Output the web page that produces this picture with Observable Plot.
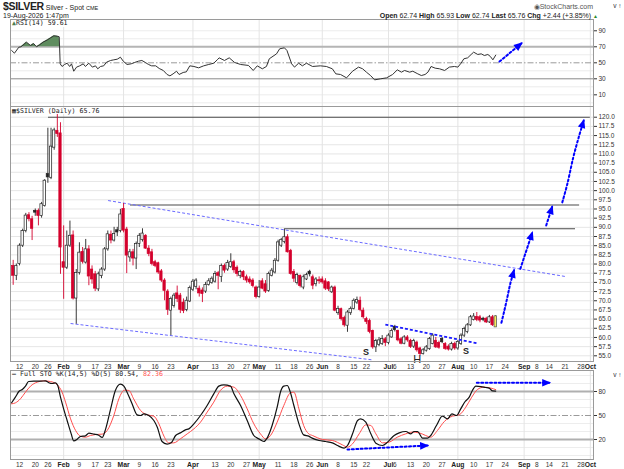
<!DOCTYPE html>
<html><head><meta charset="utf-8">
<script src="https://cdn.jsdelivr.net/npm/d3@7"></script>
<script src="https://cdn.jsdelivr.net/npm/@observablehq/plot@0.6"></script>
<style>
body{margin:0;background:#fff;}
#wrap{position:relative;width:624px;height:469px;overflow:hidden;font-family:"Liberation Sans",Arial,sans-serif;color:#222;background:#fff;font-size:7px;}
#wrap svg{position:absolute;left:0;}
.t{position:absolute;white-space:nowrap;line-height:1;font-size:7px;}
.mono{font-family:"DejaVu Sans Mono",monospace;}
</style></head><body><div id="wrap">
<div class="t" style="left:3px;top:1px;height:10px;line-height:10px;"><b style="font-size:10.5px;letter-spacing:-0.3px">$SILVER</b> <span style="font-size:7px">Silver - Spot</span> <span style="font-size:5.5px">CME</span></div>
<div class="t" style="left:3px;top:11.5px;font-size:7px;line-height:7px">19-Aug-2026 1:47pm</div>
<div class="t" style="right:31px;top:3px;font-size:7px;color:#555">&#9673;StockCharts.com</div>
<div class="t" style="right:26px;top:12px;font-size:7px"><b>Open</b> 62.74 <b>High</b> 65.93 <b>Low</b> 62.74 <b>Last</b> 65.76 <b>Chg</b> +2.44 (+3.85%) <span style="color:#2a8a2a;font-size:5px">&#9650;</span></div>
</div>
<script>
// ---------- DATA ----------
const firstIdx = -2; // trading-day index of first candle (Jan 12, 2026 = 0)
const open  = [79.5,76.8,80,85,89,93.3,92.2,94.5,94.5,93.1,95.8,104.5,103.5,111.7,116.3,115.6,80.5,79,85,87.8,70.6,77.6,83.3,80.4,84,78.5,77.2,73.1,76.7,78.5,84,88,86.4,89.2,89,95,89.4,81.8,83.2,81.5,85.5,86.5,87.7,84.2,83.2,80.5,80.2,78,75.5,72.5,67.3,68.6,72,71.4,69.5,67.5,69.8,73,73.8,73.3,72.8,72.5,74.3,74.8,75.2,77.5,76.5,79.5,78.5,79.2,80.5,79,76.8,77.8,76.4,75.8,75.5,73.6,71,75.3,74.5,72.7,76.8,77.7,80.9,85,86,87.3,83.6,77.8,74.8,76.8,73.6,75.8,77.9,76.4,74.5,75.6,75.8,75.3,75,72.3,73.6,66.6,67.7,65.3,63.2,66.6,67.8,69.5,70,67.3,65,64.5,61.8,57.3,58,58.2,59.5,58.5,60,62.9,61.8,59.5,58.3,60,59.1,57.5,58.6,57,55.5,56.4,56.8,58.2,59.1,58.5,59.6,58.2,57.5,56.7,58.2,57,58.2,60.5,61.5,63.3,64.8,65.6,65.5,65.1,65.1,64.1,65.5,62.74];
const high  = [81,80,85.5,89.5,93.8,94,93,95,95,96.8,103,117,117,117,121,118.5,90.4,89,91.7,89,78.5,85.8,84.5,86.7,85,79.5,78,77.8,79,84.5,89,89,90,90,94.9,96.5,90,84,84,86,88.3,89.6,88,85,84,81,80.5,78.5,76,73,71,72,74,72,70.5,71,74,75.8,76,74,73.5,75,76,76.5,78,78,80,80,81,82.8,81,79.5,78.3,78.2,77,76.5,76,74,75.5,76,75.5,77.8,78.8,81.5,86.5,87,89.6,88,84,78.5,77.5,77,77,77.5,78.3,77,76.3,76.5,76.5,76,75.2,74,74,68.5,68,65.8,67.3,68.3,70.5,71,71,68,65.5,65,62,59.5,60,60.5,60,61,62.3,63.3,62,60,60.5,60.5,59.5,59.5,59,57.3,57,57.8,60,61,60,59,60,58.6,58,58.7,58.7,59.2,61,62.8,63.8,66,66.5,66.8,66,65.5,65.5,66,66,65.93];
const low   = [74.2,75.5,79.5,84.5,88.5,91.5,86.4,93,90.4,92.5,95.5,102,103,111,114.5,77.2,70.4,78.5,84.5,70.2,63.6,77,80,80,74.1,74.5,72.5,72.5,76,78,83.5,85.5,86,87.5,88.5,88.5,77.4,80.5,79.5,78.5,84.5,86,84,82,79.5,79,77.2,75,70,66,60.5,68,69.5,66.5,66.5,67,69.5,72.5,73,71,69.5,72,74,74.5,74.8,73,75,77.5,78,78.8,77.5,76.5,76,75.5,74.8,74.5,73.5,70.5,70.7,73,72,72.3,76.5,77.3,80.5,84.5,85.5,83,77,75,74.3,73.5,73,75.5,76.5,73,73.8,74.5,74.5,72.8,72.5,72,67,66,64.5,62.8,61.4,66,67.5,69,67,65,63.5,61,56.8,55.9,57.5,57.8,57.5,58,59.8,61.5,58.8,58,58,58.7,57,57,56,55,55.2,56,56.5,58,57,56.8,58.3,56.5,56.3,56.3,56.5,56.5,57.8,60,61,63,64.5,64.3,64,64.3,63.8,63.8,63,62.74];
const close = [76.8,79.5,85,89,93.2,92.2,89.6,94,93.1,96.3,102.7,103.6,112,116.4,115.4,84.5,79,85,87.7,70.6,77.6,83.1,80.6,84,76.6,75.8,73.3,77.2,78.5,84,88.1,86.4,88.2,88.6,93.5,89.1,82.3,83.2,81.5,85.5,87.7,88.3,84.2,82.7,80,79.5,77.7,75.5,72.7,67.5,70.5,71.4,70.5,67.5,67.2,70,73.5,75.2,75.5,72,71.8,74.3,75.3,76,77.3,76.8,79.5,78.2,80.3,80.5,78.3,77.3,77.8,76.4,75.5,75,74,71,73.6,73.3,72.5,77.3,78.2,80.9,85.9,86.5,87.3,83.2,77.3,76,77,74,76.4,77,77.2,74.1,75.8,75.3,75,73.3,73.1,73.6,67.3,67.8,65,63.3,66.8,67.8,70,70.2,67.5,65.5,64.2,61.5,57.3,59,59.2,59.6,58.5,60.5,61.8,62,59.2,58.3,60,59.2,57.4,59,56.5,55.5,56.5,57.3,59.6,60.5,57.3,57.2,58.7,56.9,56.7,58.2,57,58.8,60.5,62.3,63.3,65.5,65.7,64.8,64.6,64.8,64.1,65.5,63.32,65.76];

// RSI(14): [trading-day index, value]
const rsiPts = [[-2.5,65.4],[-1.6,62],[-0.2,69.5],[0.5,70],[2.2,75.8],[3.5,71.6],[4.5,74],[5.4,70],[6.4,72.5],[7.5,75.8],[8.8,78.5],[9.8,81],[10.9,83.7],[12,83.2],[12.6,82.5],[12.9,48.7],[13.5,45.4],[14.3,47.9],[15.1,49.5],[15.9,45.4],[16.5,48.7],[17.2,39.5],[18.1,44.6],[19.1,46.2],[20.2,48.7],[20.9,45.4],[22,49.5],[23.1,44.6],[24.1,46.2],[24.8,42.5],[25.7,45.4],[26.7,46.2],[27.6,50.8],[28.9,52.9],[29.9,53.7],[31,54.5],[32,57],[32.9,52],[34.1,47.9],[35.4,48.7],[36.5,50.4],[37.7,52],[38.8,52.9],[39.9,50.4],[40.9,47.9],[41.9,46.2],[43.2,46.2],[44.3,42.9],[45.6,40.4],[46.8,35.4],[47.7,33.7],[48.7,36.2],[49.8,39.5],[50.6,35.4],[51.9,37.9],[52.9,38.7],[54,46.2],[55.3,45.4],[56.8,43.7],[58.4,46.2],[60,47.9],[61.6,49.5],[62.7,53.7],[63.3,56.2],[65,52.9],[66.5,56.2],[68.2,50.4],[70.1,47.9],[72.6,46.7],[74.1,40.4],[75.4,46.2],[77,42.5],[78.3,45.4],[79.2,55],[81.5,61.2],[82.5,67.5],[84,68.7],[84.8,65.4],[86.3,48.7],[87.2,44.6],[88.5,49.5],[89.7,46.2],[91,49.5],[92.9,45.4],[95.4,46.2],[97.3,45.4],[99.2,42.5],[100.3,36.2],[101.8,35.4],[103.7,31.2],[105.6,39.5],[107.5,44.6],[108.8,42.5],[110,38.3],[111.3,34.1],[112.6,28.7],[114.5,30],[116.4,31.2],[118.3,35.4],[119.8,41.2],[121.1,38.3],[122.1,40.4],[123.7,38.3],[124.7,39.5],[126.3,36.2],[127.4,34.1],[128.6,35.4],[129.5,38.3],[130.5,45.4],[131.8,43.3],[133.2,42.5],[134.8,40.4],[136.3,44.6],[137.9,45.4],[139,44.6],[140,49.5],[140.9,55],[142.1,56.2],[143.2,60.4],[144,63.3],[145.3,60.4],[146.4,61.2],[147.4,59.1],[148.5,60.4],[149.3,57.9],[150.1,53.7],[151,59.61]];

// Full STO %K and %D
const stoK = [[-2.5,65.9],[-1.3,72.9],[-0.2,80],[0.9,82.5],[1.9,86.7],[2.9,92.5],[4.5,92.9],[6.7,92.9],[8.2,93.3],[9.3,91],[10.4,90],[11.4,90.8],[12.1,87.9],[13,72.9],[14,58.3],[15.1,43.8],[16.4,27.1],[17.2,18.3],[18.3,20.4],[19.3,23.8],[20.9,24.6],[22,27.9],[23.6,26.7],[25.1,25.4],[26.2,22.5],[27.3,32.9],[28.9,58.3],[30.4,81.3],[32,89.2],[33.1,86.7],[34.1,79.2],[35.7,64.6],[37.3,50.8],[38.4,50],[39.4,52.1],[41,50],[42.6,43.8],[43.7,35.4],[45.2,17.5],[46.8,14.2],[48.1,15.8],[49.5,25],[51,28.3],[52.6,32.1],[53.7,33.3],[55.3,39.6],[57.4,50],[59.5,62.5],[61.6,77.1],[63.2,86.7],[64.8,88.3],[66.9,86.7],[68,77.1],[70.1,62.5],[72.2,43.8],[74.3,25],[75.9,20.8],[77.5,17.5],[78.5,21.7],[80.1,37.5],[81.7,60.4],[82.8,80],[83.8,86.7],[84.9,87.5],[85.7,81.3],[87,62.5],[88.6,39.6],[90.1,25.8],[91.7,24.2],[92.8,21.7],[95,18.8],[97.1,17.5],[99.2,15.8],[100.8,12.5],[102.9,9.2],[104,12.5],[105.6,27.1],[107.2,43.8],[108.2,45.8],[109.8,41.7],[111.4,27.1],[113,15.4],[115.1,12.5],[116.7,16.7],[118.8,25],[120.4,28.3],[122.5,30],[124.1,27.1],[125.1,30],[126.2,30],[127.8,21.7],[129.4,21.7],[130.4,25],[132.2,37.5],[134.1,49.2],[135.7,45.8],[137.1,52.1],[138.6,50],[139.9,58.3],[141.3,67.5],[142.6,72.9],[143.6,81.3],[144.7,86.7],[146.3,86.2],[147.8,85],[148.9,84.2],[150,80.8],[151,80.54]];
const stoD = [[-2.5,64.6],[-1.3,65.8],[0.3,70.8],[1.9,79.2],[3.5,86.7],[5.6,91.7],[7.7,93.3],[9.8,92.5],[12,88.3],[13.5,79.2],[14.6,66.7],[16.2,45.8],[17.8,31.2],[19.3,24.2],[20.9,22.9],[22.5,25],[24.1,26.2],[26.2,26.7],[27.8,31.2],[29.9,50],[31.5,70.8],[33.3,81.7],[34.7,81.3],[36.2,70.8],[38.4,56.2],[40.5,50.8],[42.6,49.2],[44.2,39.6],[45.8,24.2],[47.3,15.8],[48.9,15.8],[51,20.8],[53.2,27.1],[55.3,33.3],[57.4,41.7],[59.5,54.2],[61.6,66.7],[63.7,81.3],[65.9,86.7],[68,85.4],[70.1,75],[72.2,58.3],[74.3,39.6],[76.4,27.1],[78,20.8],[79.6,25],[81.7,41.7],[83.8,62.5],[85.9,78.3],[87,79.2],[88.6,58.3],[90.1,37.5],[91.7,27.1],[92.9,25],[96.1,20],[99.2,18.8],[102.4,13.3],[104,10.4],[105.6,14.6],[107.7,27.1],[109.8,38.3],[111.4,37.5],[113,27.1],[115.1,15.8],[117.2,16.7],[119.8,22.9],[122.5,27.1],[124.6,29.2],[126.7,28.3],[128.8,25],[130.4,22.9],[132.5,31.2],[134.7,42.5],[137.3,49.2],[139.4,50.8],[141.5,60.4],[143.4,72.9],[145.2,82.5],[147.3,85.4],[149.5,84.2],[151,82.36]];

// annotations (trading-day index, price)
const resistance = [[9.2,181,120],[35.2,177.6,96.1],[84.3,176.3,89.6]];
const channelUpper = [[28.1,97.3],[173.1,76.6]];
const channelLower = [[16.2,63.8],[111.8,53.9]];
const necklineLine = [[116,63.5],[145.1,58.4]];
const forecastArrows = [
  [[152.8,64],[153.7,67.2],[154.7,71],[155.6,74.6],[156.8,78.3]],
  [[158.8,78.7],[162.6,88.6]],
  [[167,90.5],[168.9,95.6]],
  [[172.1,96.8],[173.7,101.8],[175.6,109.1],[177.3,114.5],[178.9,119.1]]
];
const patternLabels = [[109.9,56.1,"S"],[126.1,53.9,"H"],[141.6,56.3,"S"]];
const rsiArrow = [[152.2,51.6],[159.2,74.5]];
const stoArrows = [[[145,90.9],[168.1,90.9]],[[104,7.5],[129.4,12.5]]];

// axes
const priceTicks = [55,57.5,60,62.5,65,67.5,70,72.5,75,77.5,80,82.5,85,87.5,90,92.5,95,97.5,100,102.5,105,107.5,110,112.5,115,117.5,120];
const monthIdx = [14,33,55,76,96,117,139,160,181];
const tickIdx  = [0,5,9,14,19,24,28,33,38,43,48,55,62,67,72,76,82,87,92,96,101,106,110,117,119,124,129,134,139,144,149,154,160,164,168,173,178,181];
const tickText = ["12","20","26","Feb","9","17","23","Mar","9","16","23","Apr","13","20","27","May","11","18","26","Jun","8","15","22","Jul","6","13","20","27","Aug","10","17","24","Sep","8","14","21","28","Oct"];

// ---------- BUILD ----------
const RED = "#d4002c", BLUE = "#0000ff";
const DOTS = "2,2.4";
const X_DOMAIN = [-2.85, 182];
const candles = open.map((o,k)=>({i:firstIdx+k,o,h:high[k],l:low[k],c:close[k],pc:k?close[k-1]:o}));
const lastI = candles[candles.length-1].i;
const strokeOf = d => d.c < d.pc ? RED : "#222";
const fillOf = d => d.i===lastI ? "#f6ee5a" : (d.c < d.o ? strokeOf(d) : "#fff");
const ticks = tickIdx.map((i,k)=>({i,t:tickText[k],m:/^[A-Z]/.test(tickText[k])}));
const toPts = arr => arr.map(([i,v])=>({i,v}));
const rsi = toPts(rsiPts), kD = toPts(stoK), dD = toPts(stoD);
const arrowRows = forecastArrows.flatMap((a,z)=>a.map(([i,v])=>({i,v,z})));
const stoArrowRows = stoArrows.flatMap((a,z)=>a.map(([i,v])=>({i,v,z})));

const style = {fontFamily:'"Liberation Sans", Arial, sans-serif', fontSize:"6.5px", color:"#333", background:"transparent", overflow:"visible"};
const xTickMarks = (dy) => [
  Plot.text(ticks, {filter:d=>!d.m, x:"i", text:"t", frameAnchor:"bottom", dy, lineAnchor:"middle", fill:"#333", fontSize:6.5}),
  Plot.text(ticks, {filter:d=>d.m, x:"i", text:"t", frameAnchor:"bottom", dy, lineAnchor:"middle", fill:"#222", fontSize:6.8, fontWeight:"bold"})
];
function fixMarkers(svg){
  svg.querySelectorAll("marker").forEach(m=>{
    m.setAttribute("viewBox","-8 -5 10 10");
    m.setAttribute("markerWidth","10"); m.setAttribute("markerHeight","10");
    m.setAttribute("markerUnits","userSpaceOnUse");
    m.setAttribute("fill",BLUE); m.setAttribute("stroke","none");
    m.querySelectorAll("path").forEach(p=>{p.setAttribute("d","M-7.5,-3.8L1.5,0L-7.5,3.8Z");p.setAttribute("fill",BLUE);p.setAttribute("stroke","none");p.setAttribute("stroke-dasharray","none");});
  });
}
function place(svg, top){ svg.style.position="absolute"; svg.style.top=top+"px"; svg.style.left="0px"; svg.style.background="transparent"; fixMarkers(svg); document.getElementById("wrap").appendChild(svg); }

// RSI panel
const rsiSvg = Plot.plot({
  width:624, height:107, marginLeft:10, marginRight:31, marginTop:19, marginBottom:1, style,
  x:{domain:X_DOMAIN, axis:null}, y:{domain:[-4.6,104.1], axis:null},
  marks:[
    Plot.ruleY([0,10,20,40,60,80,90], {stroke:"#ececec"}),
    Plot.ruleX(monthIdx, {stroke:"#e4e4e4"}),
    Plot.ruleY([70], {stroke:"#b5b5b5", strokeWidth:2}),
    Plot.ruleY([30], {stroke:"#8a8a8a", strokeWidth:1}),
    Plot.ruleY([50], {stroke:"#9a9a9a", strokeDasharray:"6,2,1.5,2"}),
    Plot.areaY(rsi, {x:"i", y1:70, y2:d=>Math.max(70,d.v), fill:"#5f8d5f"}),
    Plot.line(rsi, {x:"i", y:"v", stroke:"#333", strokeWidth:1}),
    Plot.line(rsiArrow, {x:d=>d[0], y:d=>d[1], stroke:BLUE, strokeWidth:2, strokeDasharray:DOTS, markerEnd:"arrow"}),
    Plot.axisY({anchor:"right", ticks:[10,30,50,70,90], tickSize:3, tickPadding:2}),
    Plot.frame({stroke:"#9a9a9a"})
  ]
});
place(rsiSvg, 0);

// Main price panel
const mainSvg = Plot.plot({
  width:624, height:265, marginLeft:10, marginRight:31, marginTop:2, marginBottom:8, style,
  x:{domain:X_DOMAIN, axis:null}, y:{domain:[53.45,122.92], axis:null},
  marks:[
    Plot.ruleY(priceTicks, {stroke:"#e6e6e6"}),
    Plot.ruleX(monthIdx, {stroke:"#e2e2e2"}),
    Plot.ruleY(resistance, {y:d=>d[2], x1:d=>d[0], x2:d=>d[1], stroke:"#4a4a4a", strokeWidth:1.1}),
    Plot.link([channelUpper, channelLower], {x1:d=>d[0][0], y1:d=>d[0][1], x2:d=>d[1][0], y2:d=>d[1][1], stroke:"#6a6aff", strokeWidth:1, strokeDasharray:"3,2"}),
    Plot.ruleX(candles, {x:"i", y1:"l", y2:"h", stroke:strokeOf, strokeWidth:0.9}),
    Plot.rect(candles, {x1:d=>d.i-0.37, x2:d=>d.i+0.37, y1:d=>Math.min(d.o,d.c), y2:d=>Math.max(d.o,d.c), fill:fillOf, stroke:d=>d.i===lastI?"#555":strokeOf(d), strokeWidth:0.7}),
    Plot.link([necklineLine], {x1:d=>d[0][0], y1:d=>d[0][1], x2:d=>d[1][0], y2:d=>d[1][1], stroke:"#1a1aff", strokeWidth:1.8, strokeDasharray:"3,2"}),
    Plot.line(arrowRows, {x:"i", y:"v", z:"z", curve:"catmull-rom", stroke:BLUE, strokeWidth:2, strokeDasharray:DOTS, markerEnd:"arrow"}),
    Plot.text(patternLabels.filter(d=>d[2]==="S"), {x:d=>d[0], y:d=>d[1], text:d=>d[2], fontSize:9, fontWeight:"bold", fill:"#222"}),
    Plot.text(patternLabels.filter(d=>d[2]==="H"), {x:d=>d[0], y:d=>d[1], text:d=>d[2], fontSize:11, fill:"#222"}),
    Plot.axisY({anchor:"right", ticks:priceTicks, tickFormat:d=>d.toFixed(1), tickSize:3, tickPadding:2}),
    ...xTickMarks(5),
    Plot.frame({stroke:"#9a9a9a"})
  ]
});
place(mainSvg, 104);

// Full STO panel
const stoSvg = Plot.plot({
  width:624, height:100, marginLeft:10, marginRight:31, marginTop:1, marginBottom:10, style,
  x:{domain:X_DOMAIN, axis:null}, y:{domain:[-5,106.25], axis:null},
  marks:[
    Plot.ruleY([0,10,30,40,60,70,90,100], {stroke:"#ededed"}),
    Plot.ruleX(monthIdx, {stroke:"#e4e4e4"}),
    Plot.ruleY([80,20], {stroke:"#b0b0b0", strokeWidth:2}),
    Plot.ruleY([50], {stroke:"#9a9a9a", strokeDasharray:"6,2,1.5,2"}),
    Plot.line(dD, {x:"i", y:"v", stroke:"#ff4d4d", strokeWidth:1, curve:"monotone-x"}),
    Plot.line(kD, {x:"i", y:"v", stroke:"#111", strokeWidth:1.2, curve:"monotone-x"}),
    Plot.line(stoArrowRows, {x:"i", y:"v", z:"z", stroke:BLUE, strokeWidth:2, strokeDasharray:DOTS, markerEnd:"arrow"}),
    Plot.axisY({anchor:"right", ticks:[20,50,80], tickSize:3, tickPadding:2}),
    ...xTickMarks(5),
    Plot.frame({stroke:"#9a9a9a"})
  ]
});
place(stoSvg, 369);

// panel labels (on top)
const wrap = document.getElementById("wrap");
function label(html, left, top){ const d=document.createElement("div"); d.className="t mono"; d.style.left=left+"px"; d.style.top=top+"px"; d.style.fontSize="6.6px"; d.style.background="#fff"; d.style.padding="0 1px"; d.innerHTML=html; wrap.appendChild(d); }
label('<span style="color:#4f7f4f">&#9650;</span>RSI(14) 59.61', 11, 20);
label('<span style="color:#222">&#9638;</span>$SILVER (Daily) 65.76', 11, 107.5);
label('<b>&#8212;</b> Full STO %K(14,5) %D(5) 80.54, <span style="color:#ff4d4d">82.36</span>', 11, 371);
// bring header on top
wrap.querySelectorAll(".t").forEach(e=>wrap.appendChild(e));
</script></body></html>
